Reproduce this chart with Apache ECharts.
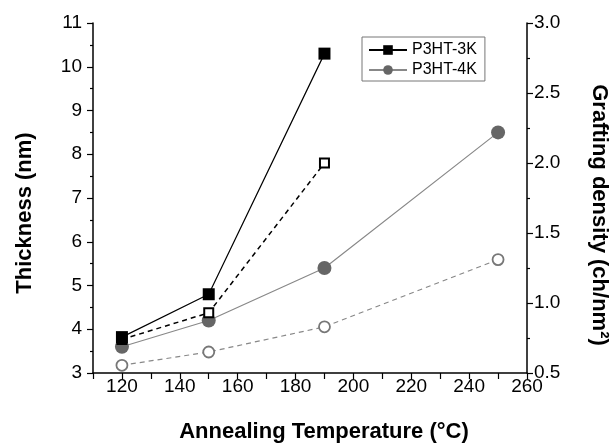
<!DOCTYPE html>
<html>
<head>
<meta charset="utf-8">
<script src="https://cdn.jsdelivr.net/npm/echarts@6/dist/echarts.min.js"></script>
<style>
  html, body { margin: 0; padding: 0; background: #fff; }
  #chart { width: 611px; height: 443px; }
</style>
</head>
<body>
<div id="chart"></div>
<script>
// annealing temperatures
var temp3K = [120, 150, 190];
var temp4K = [120, 150, 190, 250];
// thickness (nm), left axis
var thick3K = [3.82, 4.8, 10.3];
var thick4K = [3.6, 4.2, 5.4, 8.5];
// grafting density (ch/nm2), right axis
var graft3K = [0.74, 0.93, 2.0];
var graft4K = [0.555, 0.65, 0.83, 1.31];

function pairs(xs, ys) {
  return xs.map(function (x, i) { return [x, ys[i]]; });
}

var font = "Liberation Sans, Arial, sans-serif";
var chart = echarts.init(document.getElementById("chart"));

var axisCommon = {
  axisLine: { show: true, lineStyle: { color: "#000", width: 1.5 } },
  axisTick: { show: true, inside: false, length: 6, lineStyle: { color: "#000", width: 1.2 } },
  minorTick: { show: true, splitNumber: 2, length: 3, lineStyle: { color: "#000", width: 1.2 } },
  splitLine: { show: false },
  axisLabel: { color: "#000", fontSize: 19, fontFamily: font }
};
function titleStyle(padding) {
  return { color: "#000", fontSize: 22, fontWeight: "bold", fontFamily: font, padding: padding };
}

chart.setOption({
  animation: false,
  grid: { left: 93, right: 84, top: 23, bottom: 70, containLabel: false, outerBoundsMode: "none" },
  legend: {
    data: ["P3HT-3K", "P3HT-4K"],
    orient: "vertical",
    left: 362,
    top: 37,
    itemWidth: 38,
    itemHeight: 12,
    itemGap: 4,
    padding: [5, 8, 3, 6],
    borderColor: "#777",
    borderWidth: 1,
    textStyle: { color: "#000", fontSize: 16, fontFamily: font }
  },
  xAxis: Object.assign({}, axisCommon, {
    type: "value",
    min: 110,
    max: 260,
    interval: 10,
    minorTick: { show: false },
    axisLabel: Object.assign({}, axisCommon.axisLabel, {
      margin: 4,
      formatter: function (v) { return v % 20 === 0 ? String(v) : ""; }
    }),
    name: "Annealing Temperature (°C)",
    nameLocation: "middle",
    nameGap: 48,
    nameTextStyle: titleStyle([0, 0, 0, 28])
  }),
  yAxis: [
    Object.assign({}, axisCommon, {
      type: "value",
      min: 3,
      max: 11,
      interval: 1,
      axisLabel: Object.assign({}, axisCommon.axisLabel, { margin: 11 }),
      name: "Thickness (nm)",
      nameLocation: "middle",
      nameGap: 57,
      nameTextStyle: titleStyle([0, 30, 0, 0])
    }),
    Object.assign({}, axisCommon, {
      type: "value",
      position: "right",
      min: 0.5,
      max: 3,
      interval: 0.5,
      axisLabel: Object.assign({}, axisCommon.axisLabel, {
        margin: 7,
        formatter: function (v) { return v.toFixed(1); }
      }),
      name: "Grafting density (ch/nm²)",
      nameLocation: "middle",
      nameRotate: -90,
      nameGap: 61,
      nameTextStyle: titleStyle([0, 0, 0, 34])
    })
  ],
  series: [
    {
      name: "P3HT-4K-graft",
      type: "line",
      yAxisIndex: 1,
      data: pairs(temp4K, graft4K),
      symbol: "circle",
      symbolSize: 11,
      itemStyle: { color: "#fff", borderColor: "#777", borderWidth: 1.8 },
      lineStyle: { color: "#888", width: 1.2, type: [5, 4] }
    },
    {
      name: "P3HT-4K",
      type: "line",
      yAxisIndex: 0,
      data: pairs(temp4K, thick4K),
      symbol: "circle",
      symbolSize: 14,
      itemStyle: { color: "#666" },
      lineStyle: { color: "#888", width: 1.2 }
    },
    {
      name: "P3HT-3K-graft",
      type: "line",
      yAxisIndex: 1,
      data: pairs(temp3K, graft3K),
      symbol: "rect",
      symbolSize: 9,
      itemStyle: { color: "#fff", borderColor: "#000", borderWidth: 2 },
      lineStyle: { color: "#000", width: 1.5, type: [5, 4] }
    },
    {
      name: "P3HT-3K",
      type: "line",
      yAxisIndex: 0,
      data: pairs(temp3K, thick3K),
      symbol: "rect",
      symbolSize: 12,
      itemStyle: { color: "#000" },
      lineStyle: { color: "#000", width: 1.2 }
    }
  ]
});
</script>
</body>
</html>
